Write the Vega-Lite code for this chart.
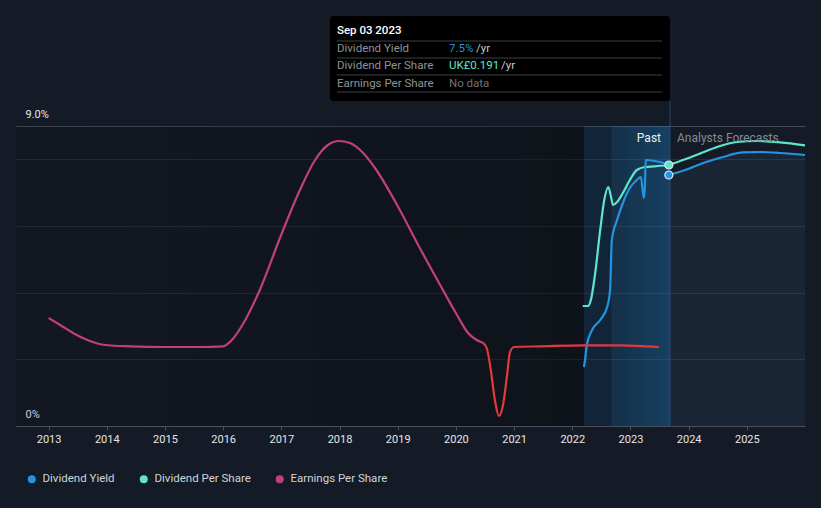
{
  "$schema": "https://vega.github.io/schema/vega-lite/v6.json",
  "width": 789,
  "height": 411,
  "autosize": {"type": "none"},
  "padding": {"left": 16, "top": 15, "right": 16, "bottom": 82},
  "background": "#151b26",
  "config": {
    "view": {"stroke": null},
    "font": "Roboto",
    "text": {"font": "Roboto"}
  },
  "datasets": {
    "lines": [
      {"s": "Earnings Per Share", "g": "eps1", "t": 2013.0, "v": 3.24},
      {"s": "Earnings Per Share", "g": "eps1", "t": 2013.2, "v": 3.03},
      {"s": "Earnings Per Share", "g": "eps1", "t": 2013.45, "v": 2.76},
      {"s": "Earnings Per Share", "g": "eps1", "t": 2013.71, "v": 2.55},
      {"s": "Earnings Per Share", "g": "eps1", "t": 2013.97, "v": 2.43},
      {"s": "Earnings Per Share", "g": "eps1", "t": 2014.4, "v": 2.39},
      {"s": "Earnings Per Share", "g": "eps1", "t": 2015.0, "v": 2.37},
      {"s": "Earnings Per Share", "g": "eps1", "t": 2015.6, "v": 2.37},
      {"s": "Earnings Per Share", "g": "eps1", "t": 2016.0, "v": 2.39},
      {"s": "Earnings Per Share", "g": "eps1", "t": 2016.15, "v": 2.58},
      {"s": "Earnings Per Share", "g": "eps1", "t": 2016.38, "v": 3.18},
      {"s": "Earnings Per Share", "g": "eps1", "t": 2016.63, "v": 4.08},
      {"s": "Earnings Per Share", "g": "eps1", "t": 2016.99, "v": 5.7},
      {"s": "Earnings Per Share", "g": "eps1", "t": 2017.32, "v": 7.08},
      {"s": "Earnings Per Share", "g": "eps1", "t": 2017.58, "v": 7.98},
      {"s": "Earnings Per Share", "g": "eps1", "t": 2017.8, "v": 8.43},
      {"s": "Earnings Per Share", "g": "eps1", "t": 2017.99, "v": 8.55},
      {"s": "Earnings Per Share", "g": "eps1", "t": 2018.18, "v": 8.49},
      {"s": "Earnings Per Share", "g": "eps1", "t": 2018.39, "v": 8.22},
      {"s": "Earnings Per Share", "g": "eps1", "t": 2018.61, "v": 7.74},
      {"s": "Earnings Per Share", "g": "eps1", "t": 2018.99, "v": 6.63},
      {"s": "Earnings Per Share", "g": "eps1", "t": 2019.38, "v": 5.34},
      {"s": "Earnings Per Share", "g": "eps1", "t": 2019.73, "v": 4.23},
      {"s": "Earnings Per Share", "g": "eps1", "t": 2020.0, "v": 3.39},
      {"s": "Earnings Per Share", "g": "eps1", "t": 2020.21, "v": 2.79},
      {"s": "Earnings Per Share", "g": "eps1", "t": 2020.33, "v": 2.61},
      {"s": "Earnings Per Share", "g": "eps1", "t": 2020.47, "v": 2.49},
      {"s": "Earnings Per Share", "g": "eps2", "t": 2020.47, "v": 2.49},
      {"s": "Earnings Per Share", "g": "eps2", "t": 2020.53, "v": 2.34},
      {"s": "Earnings Per Share", "g": "eps2", "t": 2020.6, "v": 1.68},
      {"s": "Earnings Per Share", "g": "eps2", "t": 2020.67, "v": 0.78},
      {"s": "Earnings Per Share", "g": "eps2", "t": 2020.74, "v": 0.3},
      {"s": "Earnings Per Share", "g": "eps2", "t": 2020.81, "v": 0.63},
      {"s": "Earnings Per Share", "g": "eps2", "t": 2020.88, "v": 1.53},
      {"s": "Earnings Per Share", "g": "eps2", "t": 2020.93, "v": 2.22},
      {"s": "Earnings Per Share", "g": "eps2", "t": 2021.0, "v": 2.37},
      {"s": "Earnings Per Share", "g": "eps2", "t": 2021.45, "v": 2.39},
      {"s": "Earnings Per Share", "g": "eps2", "t": 2022.2, "v": 2.42},
      {"s": "Earnings Per Share", "g": "eps2", "t": 2022.82, "v": 2.42},
      {"s": "Earnings Per Share", "g": "eps2", "t": 2023.49, "v": 2.37},
      {"s": "Dividend Per Share", "g": "dpsp", "t": 2022.18, "v": 3.6},
      {"s": "Dividend Per Share", "g": "dpsp", "t": 2022.27, "v": 3.6},
      {"s": "Dividend Per Share", "g": "dpsp", "t": 2022.32, "v": 3.78},
      {"s": "Dividend Per Share", "g": "dpsp", "t": 2022.39, "v": 4.53},
      {"s": "Dividend Per Share", "g": "dpsp", "t": 2022.48, "v": 5.88},
      {"s": "Dividend Per Share", "g": "dpsp", "t": 2022.55, "v": 6.78},
      {"s": "Dividend Per Share", "g": "dpsp", "t": 2022.62, "v": 7.17},
      {"s": "Dividend Per Share", "g": "dpsp", "t": 2022.67, "v": 6.84},
      {"s": "Dividend Per Share", "g": "dpsp", "t": 2022.7, "v": 6.63},
      {"s": "Dividend Per Share", "g": "dpsp", "t": 2022.77, "v": 6.72},
      {"s": "Dividend Per Share", "g": "dpsp", "t": 2022.87, "v": 6.99},
      {"s": "Dividend Per Share", "g": "dpsp", "t": 2022.99, "v": 7.38},
      {"s": "Dividend Per Share", "g": "dpsp", "t": 2023.11, "v": 7.68},
      {"s": "Dividend Per Share", "g": "dpsp", "t": 2023.25, "v": 7.77},
      {"s": "Dividend Per Share", "g": "dpsp", "t": 2023.42, "v": 7.79},
      {"s": "Dividend Per Share", "g": "dpsp", "t": 2023.66, "v": 7.83},
      {"s": "Dividend Yield", "g": "dyp", "t": 2022.2, "v": 1.77},
      {"s": "Dividend Yield", "g": "dyp", "t": 2022.22, "v": 1.98},
      {"s": "Dividend Yield", "g": "dyp", "t": 2022.25, "v": 2.43},
      {"s": "Dividend Yield", "g": "dyp", "t": 2022.34, "v": 2.88},
      {"s": "Dividend Yield", "g": "dyp", "t": 2022.48, "v": 3.18},
      {"s": "Dividend Yield", "g": "dyp", "t": 2022.6, "v": 3.57},
      {"s": "Dividend Yield", "g": "dyp", "t": 2022.65, "v": 4.08},
      {"s": "Dividend Yield", "g": "dyp", "t": 2022.68, "v": 5.58},
      {"s": "Dividend Yield", "g": "dyp", "t": 2022.77, "v": 6.18},
      {"s": "Dividend Yield", "g": "dyp", "t": 2022.87, "v": 6.69},
      {"s": "Dividend Yield", "g": "dyp", "t": 2022.99, "v": 7.14},
      {"s": "Dividend Yield", "g": "dyp", "t": 2023.11, "v": 7.38},
      {"s": "Dividend Yield", "g": "dyp", "t": 2023.18, "v": 7.47},
      {"s": "Dividend Yield", "g": "dyp", "t": 2023.21, "v": 7.08},
      {"s": "Dividend Yield", "g": "dyp", "t": 2023.23, "v": 6.84},
      {"s": "Dividend Yield", "g": "dyp", "t": 2023.25, "v": 7.23},
      {"s": "Dividend Yield", "g": "dyp", "t": 2023.26, "v": 7.98},
      {"s": "Dividend Yield", "g": "dyp", "t": 2023.42, "v": 7.95},
      {"s": "Dividend Yield", "g": "dyp", "t": 2023.64, "v": 7.86},
      {"s": "Dividend Yield", "g": "dyf", "t": 2023.66, "v": 7.53},
      {"s": "Dividend Yield", "g": "dyf", "t": 2023.94, "v": 7.68},
      {"s": "Dividend Yield", "g": "dyf", "t": 2024.25, "v": 7.89},
      {"s": "Dividend Yield", "g": "dyf", "t": 2024.59, "v": 8.07},
      {"s": "Dividend Yield", "g": "dyf", "t": 2024.93, "v": 8.21},
      {"s": "Dividend Yield", "g": "dyf", "t": 2025.23, "v": 8.22},
      {"s": "Dividend Yield", "g": "dyf", "t": 2025.57, "v": 8.19},
      {"s": "Dividend Yield", "g": "dyf", "t": 2026.0, "v": 8.13},
      {"s": "Dividend Per Share", "g": "dpsf", "t": 2023.66, "v": 7.83},
      {"s": "Dividend Per Share", "g": "dpsf", "t": 2023.94, "v": 8.0},
      {"s": "Dividend Per Share", "g": "dpsf", "t": 2024.25, "v": 8.21},
      {"s": "Dividend Per Share", "g": "dpsf", "t": 2024.54, "v": 8.4},
      {"s": "Dividend Per Share", "g": "dpsf", "t": 2024.83, "v": 8.52},
      {"s": "Dividend Per Share", "g": "dpsf", "t": 2025.17, "v": 8.55},
      {"s": "Dividend Per Share", "g": "dpsf", "t": 2025.57, "v": 8.51},
      {"s": "Dividend Per Share", "g": "dpsf", "t": 2026.0, "v": 8.42}
    ],
    "dots": [
      {"s": "Dividend Per Share", "t": 2023.66, "v": 7.83},
      {"s": "Dividend Yield", "t": 2023.66, "v": 7.53}
    ]
  },
  "layer": [
    {
      "data": {"values": [{}]},
      "mark": {"type": "rect", "color": {"gradient": "linear", "x1": 0, "x2": 1, "y1": 0, "y2": 0, "stops": [{"offset": 0, "color": "rgba(0,0,0,0.12)"}, {"offset": 1, "color": "rgba(0,0,0,0.32)"}]}},
      "encoding": {
        "x": {"datum": 2012.44, "type": "quantitative", "scale": {"domain": [2012.44, 2026.0], "nice": false, "zero": false},
          "axis": {"orient": "bottom", "values": [2013, 2014, 2015, 2016, 2017, 2018, 2019, 2020, 2021, 2022, 2023, 2024, 2025], "format": "d", "title": null, "grid": false, "labelColor": "#e6e6e6", "labelFont": "Roboto", "labelFontSize": 11, "domainColor": "#4b5059", "tickColor": "#4b5059", "tickSize": 4, "labelPadding": 3}},
        "x2": {"datum": 2022.2},
        "y": {"datum": 0, "type": "quantitative", "scale": {"domain": [0, 12.33], "nice": false, "zero": false},
          "axis": {"orient": "left", "values": [0, 2, 4, 6, 8, 9], "title": null, "labelExpr": "datum.value == 9 ? '9.0%' : datum.value == 0 ? '0%' : ''", "grid": true, "gridColor": {"condition": {"test": "datum.value == 9", "value": "#474c55"}, "value": "#2a2f38"}, "domain": false, "ticks": false, "labelAlign": "left", "labelBaseline": "bottom", "labelPadding": -9, "labelOffset": -7, "labelColor": "#e6e6e6", "labelFont": "Roboto", "labelFontSize": 11}},
        "y2": {"datum": 9}
      }
    },
    {
      "data": {"values": [{}]},
      "mark": {"type": "rect", "color": "rgba(11,77,128,0.2)"},
      "encoding": {
        "x": {"datum": 2022.2, "type": "quantitative"},
        "x2": {"datum": 2022.67},
        "y": {"datum": 0, "type": "quantitative"},
        "y2": {"datum": 9}
      }
    },
    {
      "data": {"values": [{}]},
      "mark": {"type": "rect", "color": {"gradient": "linear", "x1": 0, "x2": 1, "y1": 0, "y2": 0, "stops": [{"offset": 0, "color": "rgba(24,130,205,0.2)"}, {"offset": 1, "color": "rgba(24,130,205,0.36)"}]}},
      "encoding": {
        "x": {"datum": 2022.67, "type": "quantitative"},
        "x2": {"datum": 2023.68},
        "y": {"datum": 0, "type": "quantitative"},
        "y2": {"datum": 9}
      }
    },
    {
      "data": {"name": "lines"},
      "transform": [{"filter": "datum.g == 'dyf'"}],
      "mark": {"type": "area", "color": "#3c6e96", "opacity": 0.15, "interpolate": "monotone"},
      "encoding": {
        "x": {"field": "t", "type": "quantitative", "title": null},
        "y": {"field": "v", "type": "quantitative", "title": null}
      }
    },
    {
      "data": {"values": [{}]},
      "mark": {"type": "rule", "color": "#28496a", "strokeWidth": 1},
      "encoding": {
        "x": {"datum": 2023.68, "type": "quantitative"},
        "y": {"datum": 0, "type": "quantitative"},
        "y2": {"datum": 9.75}
      }
    },
    {
      "data": {"name": "lines"},
      "transform": [{"filter": "datum.g != 'eps2'"}],
      "mark": {"type": "line", "strokeWidth": 2.2, "interpolate": "monotone"},
      "encoding": {
        "x": {"field": "t", "type": "quantitative", "title": null},
        "y": {"field": "v", "type": "quantitative", "title": null},
        "detail": {"field": "g"},
        "color": {
          "field": "s",
          "type": "nominal",
          "scale": {"domain": ["Dividend Yield", "Dividend Per Share", "Earnings Per Share"], "range": ["#2394df", "#5ee6c9", "#c0407a"]},
          "legend": {
            "title": null,
            "orient": "none",
            "legendX": 10,
            "legendY": 458,
            "direction": "horizontal",
            "symbolType": "circle",
            "symbolSize": 64,
            "symbolStrokeWidth": 0,
            "labelColor": "#d0d4d9",
            "labelFont": "Roboto",
            "labelFontSize": 11.5,
            "labelOffset": 5,
            "columnPadding": 23,
            "padding": 0,
            "encode": {
              "symbols": {"update": {"fill": {"scale": "color", "field": "value"}, "opacity": {"value": 1}}}
            }
          }
        }
      }
    },
    {
      "data": {"name": "lines"},
      "transform": [{"filter": "datum.g == 'eps2'"}],
      "mark": {"type": "line", "strokeWidth": 2.2, "interpolate": "monotone", "color": "#e0393e"},
      "encoding": {
        "x": {"field": "t", "type": "quantitative", "title": null},
        "y": {"field": "v", "type": "quantitative", "title": null}
      }
    },
    {
      "data": {"name": "dots"},
      "mark": {"type": "point", "filled": true, "size": 64, "stroke": "#dce8f2", "strokeWidth": 1.2, "opacity": 1},
      "encoding": {
        "x": {"field": "t", "type": "quantitative", "title": null},
        "y": {"field": "v", "type": "quantitative", "title": null},
        "fill": {"field": "s", "type": "nominal", "scale": {"domain": ["Dividend Yield", "Dividend Per Share"], "range": ["#2394df", "#5ee6c9"]}, "legend": null}
      }
    },
    {
      "data": {"values": [{}]},
      "mark": {"type": "text", "text": "Past", "align": "right", "baseline": "middle", "dx": -9, "color": "#eef0f2", "fontSize": 12},
      "encoding": {"x": {"datum": 2023.68, "type": "quantitative"}, "y": {"datum": 8.64, "type": "quantitative"}}
    },
    {
      "data": {"values": [{}]},
      "mark": {"type": "text", "text": "Analysts Forecasts", "align": "left", "baseline": "middle", "dx": 7, "color": "#858a92", "fontSize": 12},
      "encoding": {"x": {"datum": 2023.68, "type": "quantitative"}, "y": {"datum": 8.64, "type": "quantitative"}}
    },
    {
      "data": {"values": [{}]},
      "mark": {"type": "rect", "color": "#000000", "cornerRadius": 3},
      "encoding": {
        "x": {"datum": 2017.836, "type": "quantitative"},
        "x2": {"datum": 2023.679},
        "y": {"datum": 9.75, "type": "quantitative"},
        "y2": {"datum": 12.3}
      }
    },
    {
      "data": {"values": [{}]},
      "mark": {"type": "rule", "color": "#3a3f47", "strokeWidth": 1},
      "encoding": {"x": {"datum": 2017.956, "type": "quantitative"}, "x2": {"datum": 2023.542}, "y": {"datum": 11.55, "type": "quantitative"}}
    },
    {
      "data": {"values": [{}]},
      "mark": {"type": "rule", "color": "#3a3f47", "strokeWidth": 1},
      "encoding": {"x": {"datum": 2017.956, "type": "quantitative"}, "x2": {"datum": 2023.542}, "y": {"datum": 11.04, "type": "quantitative"}}
    },
    {
      "data": {"values": [{}]},
      "mark": {"type": "rule", "color": "#3a3f47", "strokeWidth": 1},
      "encoding": {"x": {"datum": 2017.956, "type": "quantitative"}, "x2": {"datum": 2023.542}, "y": {"datum": 10.53, "type": "quantitative"}}
    },
    {
      "data": {"values": [{}]},
      "mark": {"type": "rule", "color": "#3a3f47", "strokeWidth": 1},
      "encoding": {"x": {"datum": 2017.956, "type": "quantitative"}, "x2": {"datum": 2023.542}, "y": {"datum": 10.02, "type": "quantitative"}}
    },
    {
      "data": {"values": [{}]},
      "mark": {"type": "text", "text": "Sep 03 2023", "align": "left", "baseline": "middle", "color": "#ffffff", "fontSize": 11.5, "fontWeight": 500},
      "encoding": {"x": {"datum": 2017.956, "type": "quantitative"}, "y": {"datum": 11.85, "type": "quantitative"}}
    },
    {
      "data": {"values": [{}]},
      "mark": {"type": "text", "text": "Dividend Yield", "align": "left", "baseline": "middle", "color": "#8e9299", "fontSize": 11.5},
      "encoding": {"x": {"datum": 2017.956, "type": "quantitative"}, "y": {"datum": 11.31, "type": "quantitative"}}
    },
    {
      "data": {"values": [{}]},
      "mark": {"type": "text", "text": "Dividend Per Share", "align": "left", "baseline": "middle", "color": "#8e9299", "fontSize": 11.5},
      "encoding": {"x": {"datum": 2017.956, "type": "quantitative"}, "y": {"datum": 10.8, "type": "quantitative"}}
    },
    {
      "data": {"values": [{}]},
      "mark": {"type": "text", "text": "Earnings Per Share", "align": "left", "baseline": "middle", "color": "#8e9299", "fontSize": 11.5},
      "encoding": {"x": {"datum": 2017.956, "type": "quantitative"}, "y": {"datum": 10.26, "type": "quantitative"}}
    },
    {
      "data": {"values": [{}]},
      "mark": {"type": "text", "text": "7.5%", "align": "left", "baseline": "middle", "color": "#2394df", "fontSize": 11.5},
      "encoding": {"x": {"datum": 2019.881, "type": "quantitative"}, "y": {"datum": 11.31, "type": "quantitative"}}
    },
    {
      "data": {"values": [{}]},
      "mark": {"type": "text", "text": "/yr", "align": "left", "baseline": "middle", "color": "#c5c8cc", "fontSize": 11.5},
      "encoding": {"x": {"datum": 2020.345, "type": "quantitative"}, "y": {"datum": 11.31, "type": "quantitative"}}
    },
    {
      "data": {"values": [{}]},
      "mark": {"type": "text", "text": "UK£0.191", "align": "left", "baseline": "middle", "color": "#5ee6c9", "fontSize": 11.5},
      "encoding": {"x": {"datum": 2019.881, "type": "quantitative"}, "y": {"datum": 10.8, "type": "quantitative"}}
    },
    {
      "data": {"values": [{}]},
      "mark": {"type": "text", "text": "/yr", "align": "left", "baseline": "middle", "color": "#c5c8cc", "fontSize": 11.5},
      "encoding": {"x": {"datum": 2020.775, "type": "quantitative"}, "y": {"datum": 10.8, "type": "quantitative"}}
    },
    {
      "data": {"values": [{}]},
      "mark": {"type": "text", "text": "No data", "align": "left", "baseline": "middle", "color": "#6f737a", "fontSize": 11.5},
      "encoding": {"x": {"datum": 2019.881, "type": "quantitative"}, "y": {"datum": 10.26, "type": "quantitative"}}
    }
  ]
}
